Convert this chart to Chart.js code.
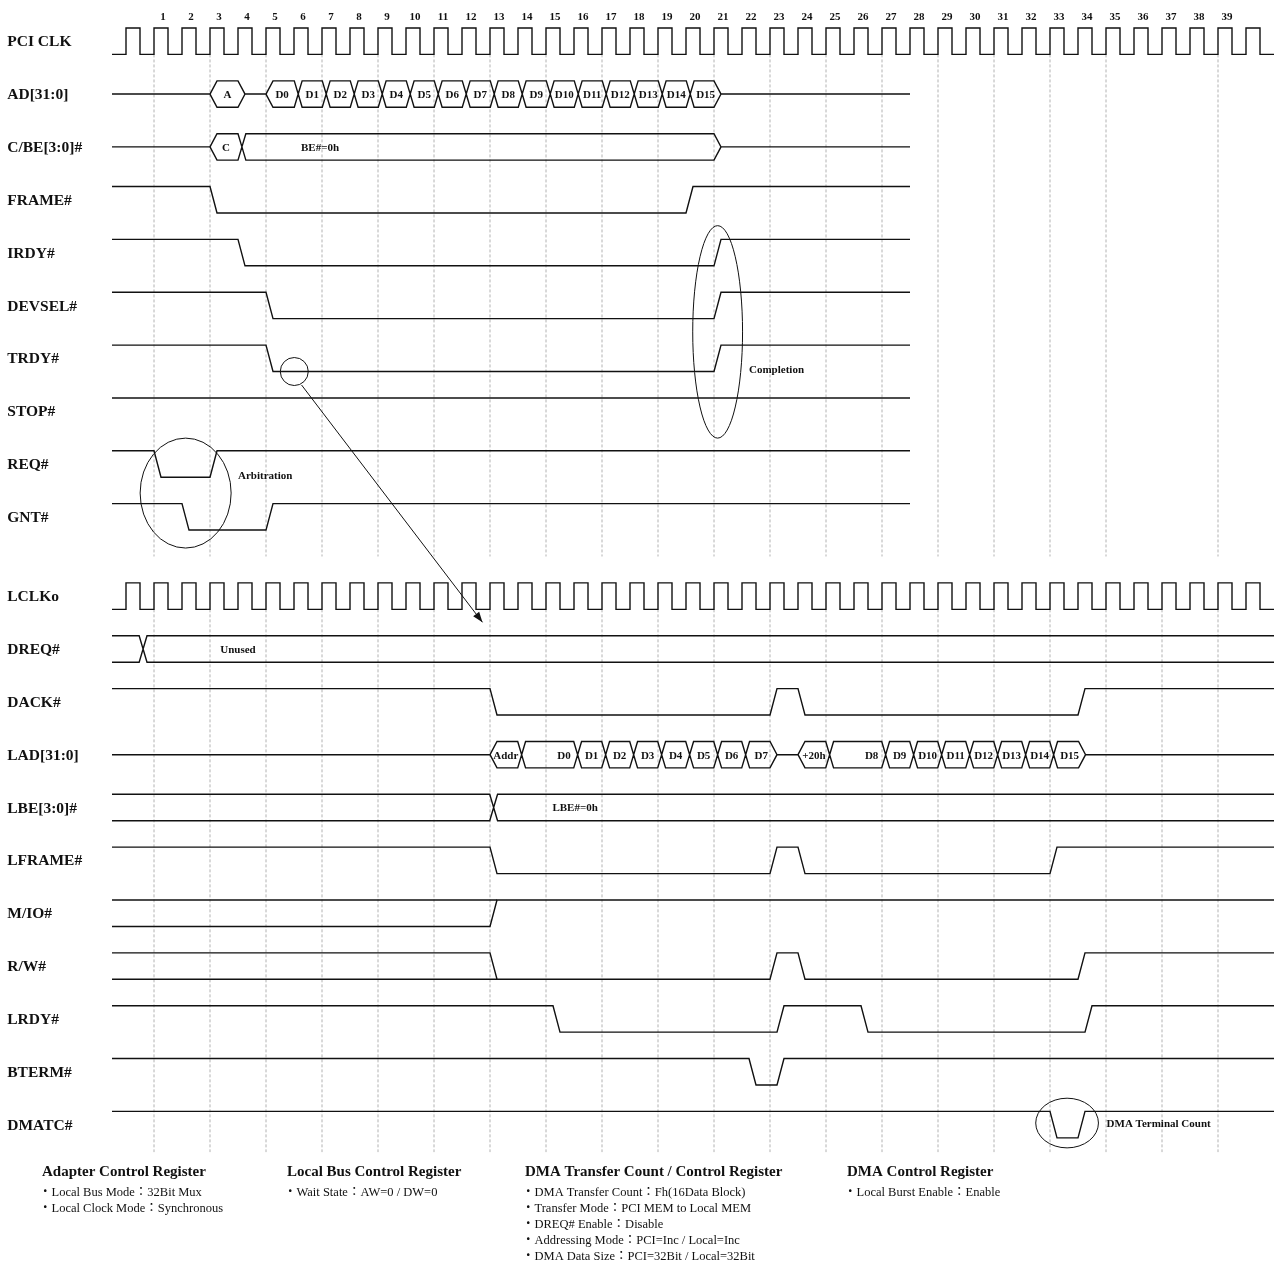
<!DOCTYPE html>
<html>
<head>
<meta charset="utf-8">
<script src="https://cdn.jsdelivr.net/npm/chart.js@4.4.1/dist/chart.umd.min.js"></script>
<style>
  html, body { margin: 0; padding: 0; background: #fff; }
  #wrap { width: 1276px; height: 1266px; }
</style>
</head>
<body>
<div id="wrap"><canvas id="timing" width="1276" height="1266"></canvas></div>
<script>
// Time is counted in PCI clock periods, rising edges sit on whole numbers.
// Rows: PCI signals on 0..9, local signals on 10.5..20.5; high level = row, low level = row + 0.5.
const START = -0.5;
const PCI_END = 28;
const LOCAL_END = 41;
const CLOCK_CYCLES = 41;
const EDGE = 0.25;   // slope of a level change
const CROSS = 0.14;  // half width of a bus crossing

const cycleLabels = ['1','2','3','4','5','6','7','8','9','10','11','12','13','14','15','16','17','18','19','20',
                     '21','22','23','24','25','26','27','28','29','30','31','32','33','34','35','36','37','38','39'];
const gridTimesPci   = [1, 3, 5, 7, 9, 11, 13, 15, 17, 19, 21, 23, 25, 27, 29, 31, 33, 35, 39];
const gridTimesLocal = [1, 3, 5, 7, 9, 11, 13, 15, 17, 19, 21, 23, 25, 27, 29, 31, 33, 35, 37, 39];

const pciRows   = ['PCI CLK', 'AD[31:0]', 'C/BE[3:0]#', 'FRAME#', 'IRDY#', 'DEVSEL#', 'TRDY#', 'STOP#', 'REQ#', 'GNT#'];
const localRows = ['LCLKo', 'DREQ#', 'DACK#', 'LAD[31:0]', 'LBE[3:0]#', 'LFRAME#', 'M/IO#', 'R/W#', 'LRDY#', 'BTERM#', 'DMATC#'];

// level signals: time of each toggle
const frameToggles  = [3, 20];
const irdyToggles   = [4, 21];
const devselToggles = [5, 21];
const trdyToggles   = [5, 21];
const stopToggles   = [];
const reqToggles    = [1, 3];
const gntToggles    = [2, 5];
const dackToggles   = [13, 23, 24, 34];
const lframeToggles = [13, 23, 24, 33];
const mioToggles    = [13];
const rwToggles     = [13, 23, 24, 34];
const lrdyToggles   = [15.25, 23.25, 26.25, 34.25];
const btermToggles  = [22.25, 23.25];
const dmatcToggles  = [33, 34];

// bus signals: [from, to, text]
const adCycles = [
  [3, 4.25, 'A'], [5, 6.15, 'D0'], [6.15, 7.15, 'D1'], [7.15, 8.15, 'D2'], [8.15, 9.15, 'D3'],
  [9.15, 10.15, 'D4'], [10.15, 11.15, 'D5'], [11.15, 12.15, 'D6'], [12.15, 13.15, 'D7'],
  [13.15, 14.15, 'D8'], [14.15, 15.15, 'D9'], [15.15, 16.15, 'D10'], [16.15, 17.15, 'D11'],
  [17.15, 18.15, 'D12'], [18.15, 19.15, 'D13'], [19.15, 20.15, 'D14'], [20.15, 21.25, 'D15'],
];
const cbeCycles  = [[3, 4.14, 'C'], [4.14, 21.25, 'BE#=0h']];
const dreqCycles = [[-0.5, 0.61, ''], [0.61, 41, 'Unused']];
const ladCycles = [
  [13, 14.13, 'Addr'], [14.13, 16.13, 'D0'], [16.13, 17.13, 'D1'], [17.13, 18.13, 'D2'],
  [18.13, 19.13, 'D3'], [19.13, 20.13, 'D4'], [20.13, 21.13, 'D5'], [21.13, 22.13, 'D6'],
  [22.13, 23.25, 'D7'], [24, 25.13, '+20h'], [25.13, 27.13, 'D8'], [27.13, 28.13, 'D9'],
  [28.13, 29.13, 'D10'], [29.13, 30.13, 'D11'], [30.13, 31.13, 'D12'], [31.13, 32.13, 'D13'],
  [32.13, 33.13, 'D14'], [33.13, 34.27, 'D15'],
];
const lbeCycles = [[-0.5, 13.13, ''], [13.13, 41, 'LBE#=0h']];

const registerTitles = ['Adapter Control Register', 'Local Bus Control Register',
                        'DMA Transfer Count / Control Register', 'DMA Control Register'];
const registerItems = [
  ['・Local Bus Mode：32Bit Mux', '・Local Clock Mode：Synchronous'],
  ['・Wait State：AW=0 / DW=0'],
  ['・DMA Transfer Count：Fh(16Data Block)', '・Transfer Mode：PCI MEM to Local MEM',
   '・DREQ# Enable：Disable', '・Addressing Mode：PCI=Inc / Local=Inc',
   '・DMA Data Size：PCI=32Bit / Local=32Bit'],
  ['・Local Burst Enable：Enable'],
];

const INK = '#111';
const SERIF = "'Liberation Serif', 'Noto Sans CJK JP', serif";

const rowY = name => pciRows.includes(name) ? pciRows.indexOf(name) : 10.5 + localRows.indexOf(name);
const GAP = x => ({ x, y: null });

const datasets = [];
function addLine(points, opts = {}) {
  datasets.push({
    data: points,
    showLine: true,
    pointRadius: 0,
    borderColor: opts.color || INK,
    borderWidth: opts.width || 1.4,
    borderDash: opts.dash || [],
    fill: false,
    tension: 0,
    spanGaps: false,
    order: opts.order || 0,
  });
}

function clockPoints(row) {
  const pts = [{ x: START, y: row + 0.5 }];
  for (let k = 0; k < CLOCK_CYCLES; k++) {
    pts.push({ x: k, y: row + 0.5 }, { x: k, y: row }, { x: k + 0.5, y: row }, { x: k + 0.5, y: row + 0.5 });
  }
  pts.push({ x: CLOCK_CYCLES, y: row + 0.5 });
  return pts;
}

function levelPoints(row, init, toggles, end) {
  const lvY = lv => lv ? row : row + 0.5;
  let lv = init;
  const pts = [{ x: START, y: lvY(lv) }];
  toggles.forEach(t => {
    pts.push({ x: t, y: lvY(lv) });
    lv = 1 - lv;
    pts.push({ x: t + EDGE, y: lvY(lv) });
  });
  pts.push({ x: end, y: lvY(lv) });
  return pts;
}

function busPoints(row, cycles, end) {
  const top = row, bot = row + 0.5, mid = row + 0.25;
  const pts = [];
  let cursor = START;
  cycles.forEach(([a, b], i) => {
    const prev = cycles[i - 1], next = cycles[i + 1];
    const openL = a <= START, openR = b >= end;
    const sL = openL ? 0 : (prev && prev[1] === a ? CROSS : EDGE);
    const sR = openR ? 0 : (next && next[0] === b ? CROSS : EDGE);
    if (a > cursor) pts.push({ x: cursor, y: mid }, { x: a, y: mid }, GAP(a));
    if (!openL) pts.push({ x: a, y: mid });
    pts.push({ x: a + sL, y: top }, { x: b - sR, y: top });
    if (!openR) pts.push({ x: b, y: mid });
    else pts.push(GAP(b));
    pts.push({ x: b - sR, y: bot }, { x: a + sL, y: bot });
    if (!openL) pts.push({ x: a, y: mid });
    pts.push(GAP(a));
    cursor = b;
  });
  if (cursor < end) pts.push({ x: cursor, y: mid }, { x: end, y: mid });
  return pts;
}

// dashed cycle grid, behind everything
gridTimesPci.forEach(t => addLine([{ x: t, y: 0.5 }, { x: t, y: 10.0 }], { color: '#a0a0a0', width: 0.8, dash: [3, 2], order: 10 }));
gridTimesLocal.forEach(t => addLine([{ x: t, y: 11.0 }, { x: t, y: 21.27 }], { color: '#a0a0a0', width: 0.8, dash: [3, 2], order: 10 }));

addLine(clockPoints(rowY('PCI CLK')));
addLine(clockPoints(rowY('LCLKo')));

const levelSignals = [
  { row: 'FRAME#',  init: 1, toggles: frameToggles,  end: PCI_END },
  { row: 'IRDY#',   init: 1, toggles: irdyToggles,   end: PCI_END },
  { row: 'DEVSEL#', init: 1, toggles: devselToggles, end: PCI_END },
  { row: 'TRDY#',   init: 1, toggles: trdyToggles,   end: PCI_END },
  { row: 'STOP#',   init: 1, toggles: stopToggles,   end: PCI_END },
  { row: 'REQ#',    init: 1, toggles: reqToggles,    end: PCI_END },
  { row: 'GNT#',    init: 1, toggles: gntToggles,    end: PCI_END },
  { row: 'DACK#',   init: 1, toggles: dackToggles,   end: LOCAL_END },
  { row: 'LFRAME#', init: 1, toggles: lframeToggles, end: LOCAL_END },
  { row: 'M/IO#',   init: 0, toggles: mioToggles,    end: LOCAL_END, unknownUntil: 13 },
  { row: 'R/W#',    init: 1, toggles: rwToggles,     end: LOCAL_END, unknownUntil: 13 },
  { row: 'LRDY#',   init: 1, toggles: lrdyToggles,   end: LOCAL_END },
  { row: 'BTERM#',  init: 1, toggles: btermToggles,  end: LOCAL_END },
  { row: 'DMATC#',  init: 1, toggles: dmatcToggles,  end: LOCAL_END },
];
levelSignals.forEach(s => {
  const r = rowY(s.row);
  addLine(levelPoints(r, s.init, s.toggles, s.end));
  if (s.unknownUntil) {
    const other = s.init ? r + 0.5 : r;
    addLine([{ x: START, y: other }, { x: s.unknownUntil + EDGE, y: other }]);
  }
});

const busSignals = [
  { row: 'AD[31:0]',   cycles: adCycles,   end: PCI_END },
  { row: 'C/BE[3:0]#', cycles: cbeCycles,  end: PCI_END },
  { row: 'DREQ#',      cycles: dreqCycles, end: LOCAL_END },
  { row: 'LAD[31:0]',  cycles: ladCycles,  end: LOCAL_END },
  { row: 'LBE[3:0]#',  cycles: lbeCycles,  end: LOCAL_END },
];
busSignals.forEach(s => addLine(busPoints(rowY(s.row), s.cycles, s.end)));

// where a bus label is not centred in its cycle
const busTextAt = {
  'C/BE[3:0]#/BE#=0h': 6.93,
  'DREQ#/Unused': 4.0,
  'LAD[31:0]/D0': 15.64,
  'LAD[31:0]/D8': 26.63,
  'LBE[3:0]#/LBE#=0h': 16.04,
};

// notes drawn over the waveforms
const ellipses = [
  { cx: 2.13,  cy: 8.80,  rx: 1.625, ry: 1.04 },
  { cx: 21.13, cy: 5.75,  rx: 0.89,  ry: 2.01 },
  { cx: 6.01,  cy: 6.50,  rx: 0.5,   ry: 0.265 },
  { cx: 33.61, cy: 20.72, rx: 1.12,  ry: 0.47 },
];
const noteTexts = [
  { text: 'Arbitration',        x: 4.0,   y: 8.48 },
  { text: 'Completion',         x: 22.25, y: 6.47 },
  { text: 'DMA Terminal Count', x: 35.02, y: 20.74 },
];
const arrow = [{ x: 6.27, y: 6.755 }, { x: 12.73, y: 11.245 }];
addLine(arrow, { width: 1 });

const registerColumns = [-3.0, 5.75, 14.25, 25.75];

const notesPlugin = {
  id: 'notes',
  afterDatasetsDraw(chart) {
    const { ctx, scales: { x, y } } = chart;
    const px = v => x.getPixelForValue(v);
    const py = v => y.getPixelForValue(v);
    ctx.save();
    ctx.fillStyle = INK;
    ctx.strokeStyle = INK;

    ctx.font = `bold 15.5px ${SERIF}`;
    ctx.textAlign = 'left';
    ctx.textBaseline = 'middle';
    [...pciRows, ...localRows].forEach(name => ctx.fillText(name, px(-4.24), py(rowY(name) + 0.27)));

    ctx.font = `bold 11px ${SERIF}`;
    ctx.textAlign = 'center';
    cycleLabels.forEach((lab, i) => ctx.fillText(lab, px(i + 1.32), py(-0.21)));

    busSignals.forEach(s => {
      const mid = rowY(s.row) + 0.25;
      s.cycles.forEach(([a, b, text]) => {
        if (!text) return;
        const at = busTextAt[`${s.row}/${text}`];
        ctx.fillText(text, px(at ?? (a + b) / 2), py(mid) + 1);
      });
    });

    ctx.textAlign = 'left';
    noteTexts.forEach(n => ctx.fillText(n.text, px(n.x), py(n.y)));

    ctx.lineWidth = 1;
    ellipses.forEach(e => {
      ctx.beginPath();
      ctx.ellipse(px(e.cx), py(e.cy), Math.abs(px(e.cx + e.rx) - px(e.cx)),
                  Math.abs(py(e.cy + e.ry) - py(e.cy)), 0, 0, Math.PI * 2);
      ctx.stroke();
    });

    const [p0, p1] = arrow.map(p => ({ x: px(p.x), y: py(p.y) }));
    const ang = Math.atan2(p1.y - p0.y, p1.x - p0.x);
    ctx.beginPath();
    ctx.moveTo(p1.x, p1.y);
    ctx.lineTo(p1.x - 11 * Math.cos(ang - 0.35), p1.y - 11 * Math.sin(ang - 0.35));
    ctx.lineTo(p1.x - 11 * Math.cos(ang + 0.35), p1.y - 11 * Math.sin(ang + 0.35));
    ctx.closePath();
    ctx.fill();

    registerTitles.forEach((title, i) => {
      const cx = px(registerColumns[i]);
      ctx.font = `bold 15px ${SERIF}`;
      ctx.fillText(title, cx, py(21.65));
      ctx.font = `12.5px ${SERIF}`;
      registerItems[i].forEach((item, j) => ctx.fillText(item, cx - 3, py(22.04 + j * 0.3)));
    });
    ctx.restore();
  },
};

new Chart(document.getElementById('timing'), {
  type: 'scatter',
  data: { datasets },
  options: {
    responsive: false,
    devicePixelRatio: 1,
    animation: false,
    events: [],
    layout: { padding: 0 },
    scales: {
      x: { type: 'linear', min: -4.5, max: 41.0714, display: false },
      y: { type: 'linear', min: -0.5298, max: 23.425, reverse: true, display: false },
    },
    plugins: { legend: { display: false }, tooltip: { enabled: false } },
  },
  plugins: [notesPlugin],
});
</script>
</body>
</html>
